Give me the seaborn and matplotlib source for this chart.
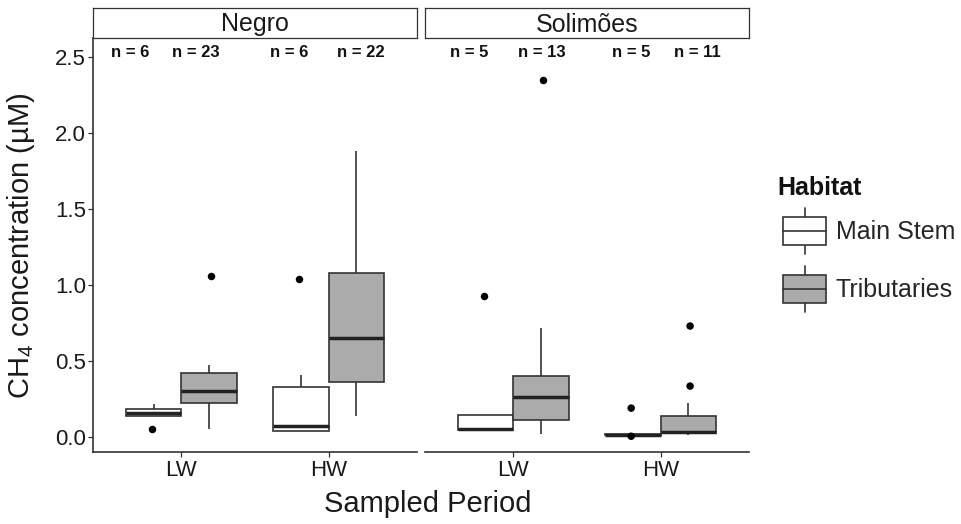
import matplotlib
matplotlib.use("Agg")
import matplotlib.pyplot as plt
from matplotlib.legend_handler import HandlerBase
from matplotlib.patches import Patch, Rectangle
from matplotlib.lines import Line2D
import pandas as pd
import seaborn as sns

# categories
rivers = ["Negro", "Solimões"]
periods = ["LW", "HW"]
habitats = ["Main Stem", "Tributaries"]

# one entry per box, ordered river -> period -> habitat
box_river = ["Negro"] * 4 + ["Solimões"] * 4
box_period = ["LW", "LW", "HW", "HW"] * 2
box_habitat = ["Main Stem", "Tributaries"] * 4

# five-number summaries (CH4, µM)
whisker_low = [0.14, 0.055, 0.04, 0.14, 0.046, 0.02, 0.012, 0.01]
quart_1 = [0.14, 0.225, 0.04, 0.36, 0.046, 0.115, 0.012, 0.025]
medians = [0.16, 0.305, 0.07, 0.65, 0.055, 0.26, 0.016, 0.03]
quart_3 = [0.185, 0.42, 0.33, 1.08, 0.145, 0.40, 0.02, 0.135]
whisker_high = [0.215, 0.475, 0.41, 1.88, 0.145, 0.72, 0.02, 0.225]
outliers = [[0.05], [1.06], [1.04], [], [0.93], [2.35], [0.19, 0.005], [0.335, 0.73]]
n_obs = [6, 23, 6, 22, 5, 13, 5, 11]

# horizontal offset of each "n = " label from its period tick (layout only)
n_label_dx = [-0.347, 0.099, -0.266, 0.218, -0.30, 0.193, -0.203, 0.25]
n_label_y = 2.53

fill_colors = {"Main Stem": "white", "Tributaries": "#ABABAB"}
edge = "#333333"

rows = []
flier_rows = []
for i in range(len(box_river)):
    for v in (whisker_low[i], quart_1[i], medians[i], quart_3[i], whisker_high[i]):
        rows.append({"River": box_river[i], "Period": box_period[i],
                     "Habitat": box_habitat[i], "CH4": v})
    for v in outliers[i]:
        flier_rows.append({"River": box_river[i], "Period": box_period[i],
                           "Habitat": box_habitat[i], "CH4": v})
df = pd.DataFrame(rows)
fliers = pd.DataFrame(flier_rows)

sns.set_theme(style="ticks")
plt.rcParams["font.family"] = ["Liberation Sans", "DejaVu Sans"]
plt.rcParams["mathtext.fontset"] = "custom"
plt.rcParams["mathtext.rm"] = "Liberation Sans"
plt.rcParams["mathtext.it"] = "Liberation Sans:italic"

W, H = 961, 524
fig = plt.figure(figsize=(W / 100, H / 100), dpi=100)
panel_left = [93, 425]
panel_w = 324
panel_top, panel_bot = 38, 452
strip_top = 8

axes = []
for k, river in enumerate(rivers):
    ax = fig.add_axes([panel_left[k] / W, 1 - panel_bot / H, panel_w / W, (panel_bot - panel_top) / H],
                      sharey=axes[0] if axes else None)
    axes.append(ax)
    sub = df[df["River"] == river]
    sns.boxplot(data=sub, x="Period", y="CH4", hue="Habitat", order=periods,
                hue_order=habitats, palette=fill_colors, whis=(0, 100),
                showfliers=False, showcaps=False, width=0.75, gap=0,
                linecolor=edge, linewidth=1.2, legend=False, ax=ax,
                medianprops={"linewidth": 2.5, "color": "#222222"})
    fsub = fliers[fliers["River"] == river]
    sns.stripplot(data=fsub, x="Period", y="CH4", hue="Habitat", order=periods,
                  hue_order=habitats, palette={h: "black" for h in habitats},
                  dodge=True, jitter=False, size=5.4, linewidth=0, legend=False, ax=ax)

    # sample size labels
    for i in range(len(box_river)):
        if box_river[i] != river:
            continue
        xi = periods.index(box_period[i]) + n_label_dx[i]
        ax.text(xi, n_label_y, f"n = {n_obs[i]}", ha="center", va="center",
                fontsize=12, fontweight="bold", color="#111111")

    ax.set_xlim(-0.6, 1.6)
    ax.set_ylim(-0.0987, 2.625)
    ax.set_xlabel("")
    ax.set_ylabel("")
    ax.set_yticks([0, 0.5, 1.0, 1.5, 2.0, 2.5])
    ax.tick_params(axis="both", labelsize=16, colors="#333333", labelcolor="#1a1a1a",
                   length=3.5, width=0.9)
    ax.tick_params(axis="x", pad=2)
    ax.tick_params(axis="y", pad=1.5)
    for s in ("left", "bottom"):
        ax.spines[s].set_color(edge)
        ax.spines[s].set_linewidth(1.2)
    sns.despine(ax=ax)
    if k == 1:
        ax.spines["left"].set_visible(False)
        ax.tick_params(axis="y", left=False, labelleft=False)
    else:
        ax.yaxis.set_major_formatter(matplotlib.ticker.FormatStrFormatter("%.1f"))

    # facet strip
    sax = fig.add_axes([panel_left[k] / W, 1 - panel_top / H, panel_w / W, (panel_top - strip_top) / H])
    sax.set_xticks([])
    sax.set_yticks([])
    for s in sax.spines.values():
        s.set_visible(True)
        s.set_color(edge)
        s.set_linewidth(0.9)
    sax.text(0.5, 0.45, river, ha="center", va="center", fontsize=18,
             color="#1a1a1a", transform=sax.transAxes)

fig.text(21 / W, 1 - 246 / H, "CH$_4$ concentration (µM)", rotation=90,
         ha="center", va="center", fontsize=21, color="#1a1a1a")
fig.text(428 / W, 1 - 504 / H, "Sampled Period", ha="center", va="center",
         fontsize=21, color="#1a1a1a")


class BoxKeyHandler(HandlerBase):
    def create_artists(self, legend, orig_handle, xdescent, ydescent, width, height, fontsize, trans):
        key_w = width * 43 / 49
        x0, y0 = -xdescent + (width - key_w), -ydescent
        bh = height * 0.6
        by = y0 + (height - bh) / 2
        cx = x0 + key_w / 2
        arts = [
            Line2D([cx, cx], [y0, by], color=edge, lw=1.2, transform=trans),
            Line2D([cx, cx], [by + bh, y0 + height], color=edge, lw=1.2, transform=trans),
            Rectangle((x0, by), key_w, bh, facecolor=orig_handle.get_facecolor(),
                      edgecolor=edge, lw=1.2, transform=trans),
            Line2D([x0, x0 + key_w], [by + bh / 2] * 2, color=edge, lw=1.2, transform=trans),
        ]
        return arts


fig.text(777 / W, 1 - 188 / H, "Habitat", ha="left", va="center",
         fontsize=18, fontweight="bold", color="#111111")
handles = [Patch(facecolor=fill_colors[h], edgecolor=edge) for h in habitats]
fig.legend(handles, habitats, handler_map={Patch: BoxKeyHandler()},
           loc="upper left", bbox_to_anchor=(777 / W, 1 - 208 / H), frameon=False,
           fontsize=18, handlelength=1.96, handleheight=2.454, handletextpad=0.4,
           labelspacing=0.48, borderpad=0, borderaxespad=0)

fig.savefig("out.png", dpi=100)
